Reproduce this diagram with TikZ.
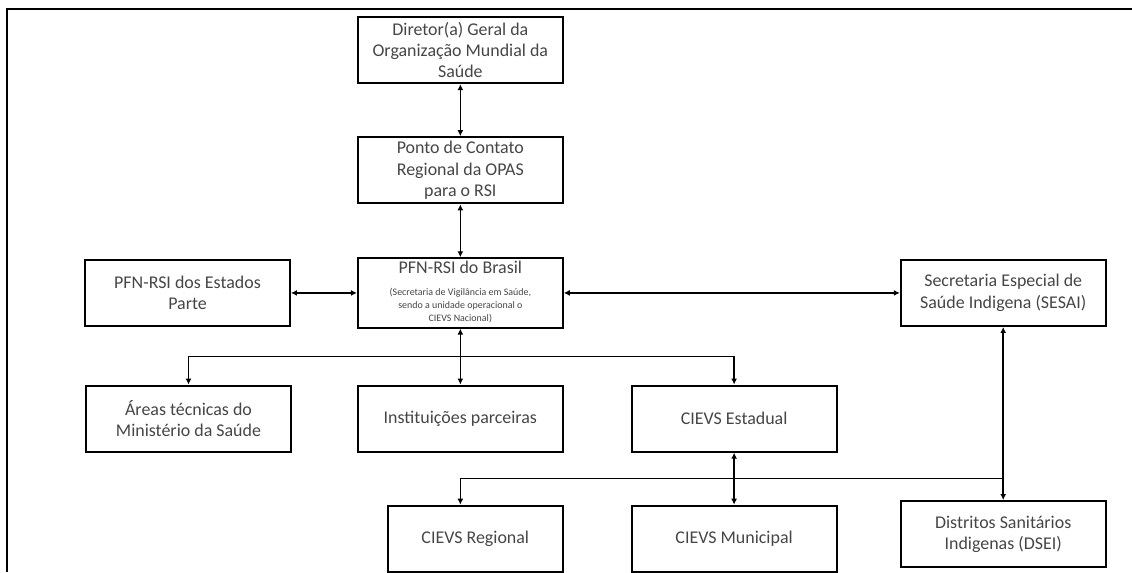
\documentclass[tikz,border=0pt]{standalone}
\usepackage{fontspec}
\setmainfont{Carlito}
\usetikzlibrary{arrows.meta,positioning,calc}
\definecolor{BoxText}{RGB}{70,70,70}
\newcommand{\subtxt}{\fontsize{7.5}{9.5}\selectfont}
\tikzset{
  orgbox/.style={draw=black,line width=1.5pt,fill=white,minimum width=5.42cm,
    minimum height=1.75cm,align=center,text=BoxText,inner sep=2pt,
    font=\fontsize{13.5}{16}\selectfont},
  link/.style={{Latex[length=4.5pt,width=4.5pt]}-{Latex[length=4.5pt,width=4.5pt]},
    line width=1.2pt},
  tolink/.style={-{Latex[length=4.5pt,width=4.5pt]},line width=1.2pt}
}

\begin{document}
\begin{tikzpicture}
  \useasboundingbox (0,0) rectangle (29.95,-15.134);
  \draw[line width=1.6pt] (0.185,-15.134) -- (0.185,-0.238) -- (29.95,-0.238);

  \node[orgbox] (brasil) at (12.18,-7.75)
    {PFN-RSI do Brasil\\[1pt]{\subtxt\begin{tabular}[t]{@{}c@{}}(Secretaria de Vigilância em Saúde,\\
     sendo a unidade operacional o\\ CIEVS Nacional)\end{tabular}}};
  \node[orgbox,above=1.40cm of brasil] (ponto)
    {Ponto de Contato\\Regional da OPAS\\para o RSI};
  \node[orgbox,above=1.376cm of ponto] (diretor)
    {Diretor(a) Geral da\\Organização Mundial da\\Saúde};
  \node[orgbox,left=1.746cm of brasil] (estados) {PFN-RSI dos Estados\\Parte};
  \node[orgbox,right=8.89cm of brasil] (sesai)
    {Secretaria Especial de\\Saúde Indigena (SESAI)};

  \node[orgbox,below=1.48cm of brasil] (inst) {Instituições parceiras};
  \node[orgbox,left=1.72cm of inst] (areas) {Áreas técnicas do\\Ministério da Saúde};
  \node[orgbox,right=1.77cm of inst] (estadual) {CIEVS Estadual};

  \node[orgbox,minimum width=4.63cm,below left=1.376cm and 0cm of inst.south east]
    (regional) {CIEVS Regional};
  \node[orgbox,below=1.376cm of estadual] (municipal) {CIEVS Municipal};
  \node[orgbox,below=4.577cm of sesai] (dsei) {Distritos Sanitários\\Indigenas (DSEI)};

  \coordinate (bus1) at ($(brasil.south)!0.5!(inst.north)$);
  \coordinate (bus2) at ($(estadual.south)!0.5!(municipal.north)$);

  \draw[link] (diretor) -- (ponto);
  \draw[link] (ponto) -- (brasil);
  \draw[link] (estados) -- (brasil);
  \draw[link] (brasil) -- (sesai);
  \draw[link] (brasil) -- (inst);
  \draw[tolink] (bus1) -| (areas);
  \draw[tolink] (bus1) -| (estadual);
  \draw[link] (estadual) -- (municipal);
  \draw[link] (sesai) -- (dsei);
  \draw[tolink] (bus2 -| sesai) -| (inst.south |- regional.north);
\end{tikzpicture}
\end{document}
